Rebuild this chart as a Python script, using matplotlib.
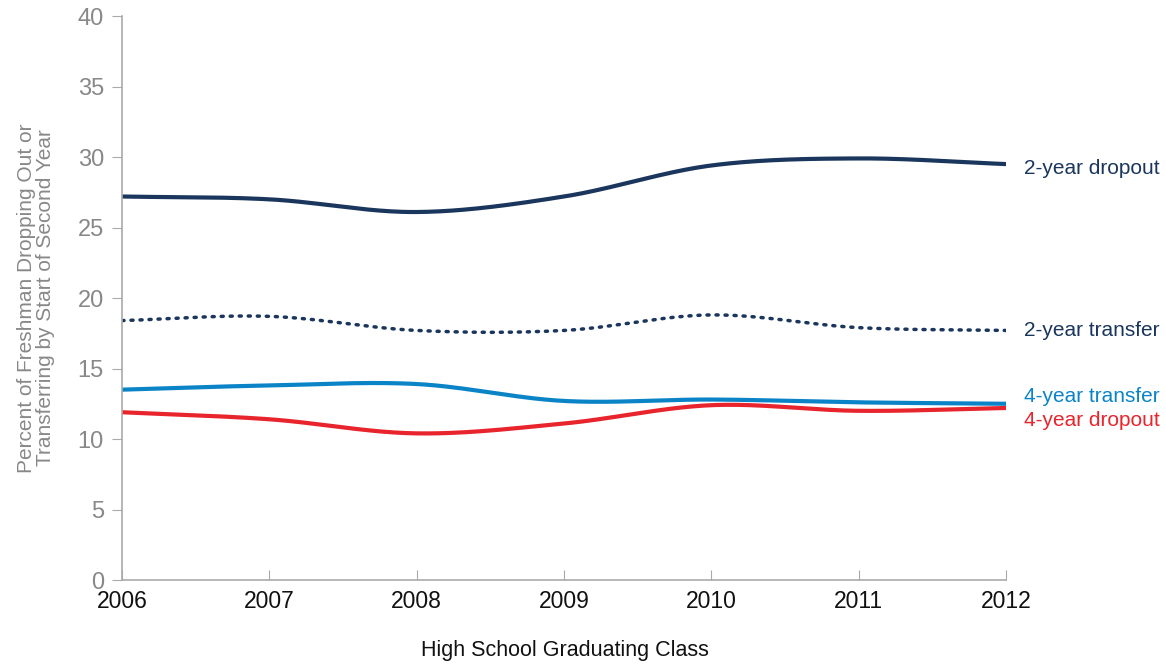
import numpy as np
import matplotlib
matplotlib.use("Agg")
import matplotlib.pyplot as plt

plt.rcParams['font.family'] = ['Liberation Sans', 'DejaVu Sans']

years = [2006, 2007, 2008, 2009, 2010, 2011, 2012]
dropout_2yr = [27.2, 27.0, 26.1, 27.2, 29.4, 29.9, 29.5]
transfer_2yr = [18.4, 18.7, 17.7, 17.7, 18.8, 17.9, 17.7]
transfer_4yr = [13.5, 13.8, 13.9, 12.7, 12.8, 12.6, 12.5]
dropout_4yr = [11.9, 11.4, 10.4, 11.1, 12.4, 12.0, 12.2]


# smooth curve through the points (Catmull-Rom), like the original's smoothed lines
def smooth(x, y, n=40):
    x = np.asarray(x, float)
    y = np.asarray(y, float)
    px = np.concatenate([[2 * x[0] - x[1]], x, [2 * x[-1] - x[-2]]])
    py = np.concatenate([[2 * y[0] - y[1]], y, [2 * y[-1] - y[-2]]])
    xs, ys = [], []
    t = np.linspace(0, 1, n)
    for i in range(1, len(px) - 2):
        for p, out in ((px, xs), (py, ys)):
            p0, p1, p2, p3 = p[i - 1], p[i], p[i + 1], p[i + 2]
            out.extend(0.5 * ((2 * p1) + (-p0 + p2) * t
                              + (2 * p0 - 5 * p1 + 4 * p2 - p3) * t ** 2
                              + (-p0 + 3 * p1 - 3 * p2 + p3) * t ** 3))
    return np.array(xs), np.array(ys)


navy = '#1b365d'
blue = '#0a84c6'
red = '#e8242c'

fig = plt.figure(figsize=(11.66, 6.65), dpi=100)
ax = fig.add_axes([0.1046, 0.1278, 0.7582, 0.8481])

series = [
    (dropout_2yr, navy, '-', '2-year dropout', 29.2),
    (transfer_2yr, navy, ':', '2-year transfer', 17.7),
    (transfer_4yr, blue, '-', '4-year transfer', 13.0),
    (dropout_4yr, red, '-', '4-year dropout', 11.3),
]
for vals, col, ls, name, ly in series:
    sx, sy = smooth(years, vals)
    if ls == ':':
        ax.plot(sx, sy, color=col, lw=2.5, linestyle=(0, (0.6, 2.0)),
                dash_capstyle='round')
    else:
        ax.plot(sx, sy, color=col, lw=3)
    ax.text(2012.12, ly, name, color=col, fontsize=15, va='center', ha='left')

ax.set_xlim(2006, 2012)
ax.set_ylim(0, 40)
ax.set_xticks(years)
ax.set_yticks(range(0, 41, 5))
for s in ['top', 'right']:
    ax.spines[s].set_visible(False)
for s in ['left', 'bottom']:
    ax.spines[s].set_color('#aaaaaa')
    ax.spines[s].set_linewidth(1.2)
ax.tick_params(axis='y', direction='out', length=7, color='#aaaaaa',
               labelcolor='#888888', labelsize=17, pad=6)
ax.tick_params(axis='x', direction='in', length=7, color='#aaaaaa',
               labelcolor='#111111', labelsize=16.5, pad=7)

ax.set_ylabel('Percent of Freshman Dropping Out or\nTransferring by Start of Second Year',
              color='#888888', fontsize=15, labelpad=16, linespacing=1.0)
# x axis title sits well below the ticks
fig.text(0.4846, 0.022, 'High School Graduating Class', color='#111111',
         fontsize=15.5, ha='center', va='center')

fig.savefig('out.png', dpi=100)
